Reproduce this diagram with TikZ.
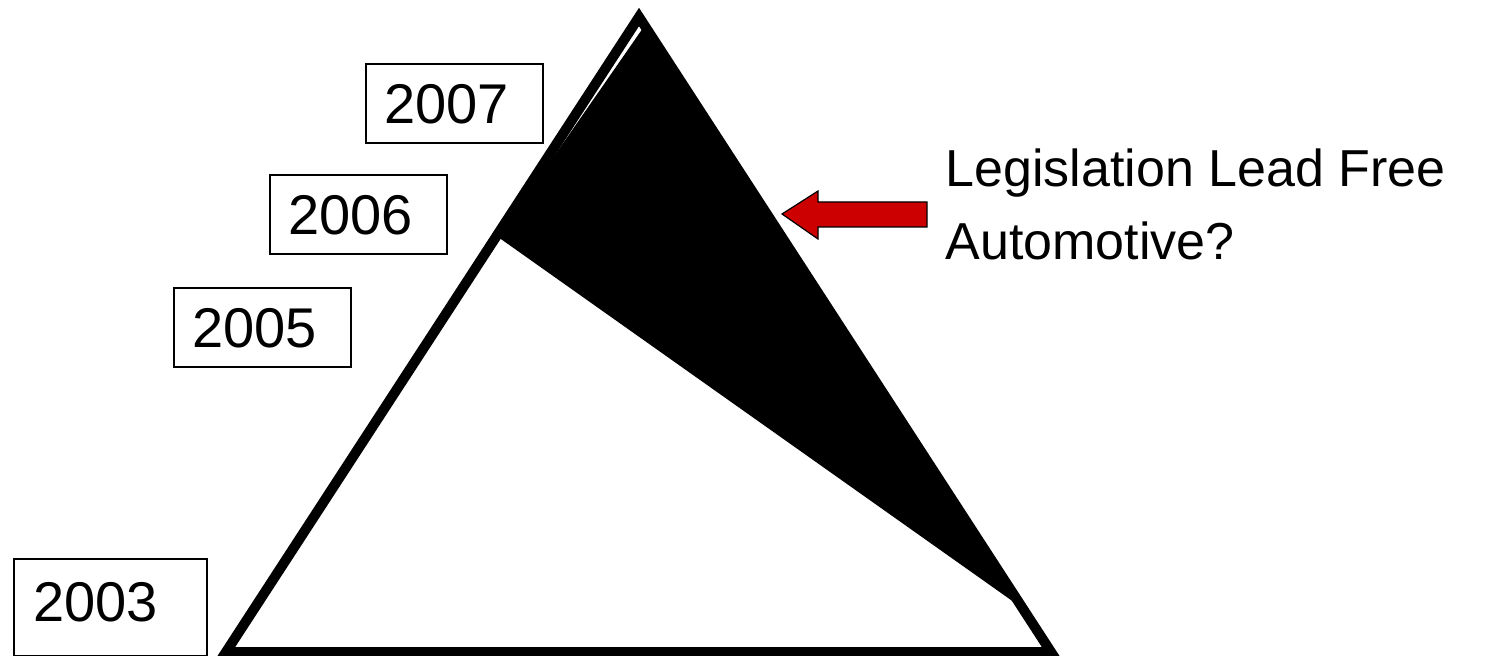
\documentclass[tikz,border=0pt]{standalone}
\usepackage{fontspec}
\setmainfont{Liberation Sans}
\definecolor{arrowred}{HTML}{CC0000}
\begin{document}
\begin{tikzpicture}[x=0.5pt,y=-0.5pt,
  yearbox/.style={draw=black, line width=1pt, fill=white, anchor=north west,
    font=\fontsize{28}{33}\selectfont, text height=20pt, text depth=0pt,
    inner xsep=9pt, inner ysep=9.75pt, text width=70.5pt, align=left},
  outline/.style={line width=5pt, line join=miter, draw=black},
  label/.style={font=\fontsize{26}{36.5}\selectfont, align=left, anchor=base west, inner sep=0pt}]
\useasboundingbox (0,0) rectangle (1486,656);
% triangle vertices
\coordinate (apex) at (639,17);
\coordinate (bl) at (226,652);
\coordinate (br) at (1051,652);
% fill vertices
\coordinate (fa) at (643,28);
\coordinate (fl) at (498,237);
\coordinate (fr) at (1018,605);
\fill[black] (fl) -- (fa) -- (fr) -- cycle;
\draw[outline] (apex) -- (br) -- (bl) -- cycle;
% year boxes
\node[yearbox] (y2007) at (365,63) {2007};
\node[yearbox] (y2006) at (269,174) {2006};
\node[yearbox] (y2005) at (173,287) {2005};
\node[yearbox, text width=77.5pt, inner xsep=9.5pt, inner ysep=11pt, text depth=6.5pt] (y2003) at (13,558) {2003};
% arrow
\coordinate (tip) at (782,214);
\draw[fill=arrowred, draw=black, line width=0.6pt, line join=miter]
  (tip) -- (818,191) -- (818,202) -- (927,202) -- (927,227) -- (818,227) -- (818,239) -- cycle;
% label
\node[label] (leg) at (945,260) {Legislation Lead Free\\Automotive?};
\end{tikzpicture}
\end{document}
